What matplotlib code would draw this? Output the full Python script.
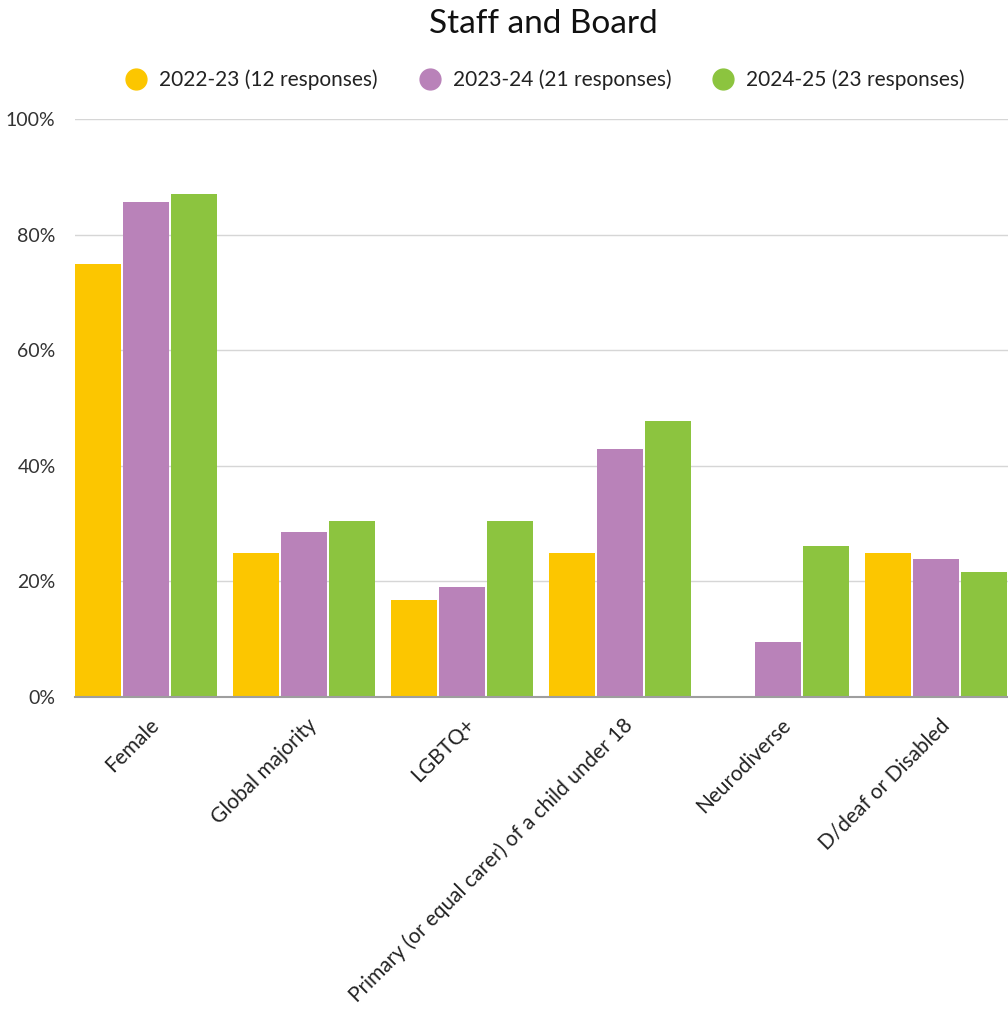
import matplotlib.pyplot as plt
import matplotlib.transforms as mtrans
from matplotlib.lines import Line2D
import numpy as np

plt.rcParams['font.family'] = ['Lato', 'DejaVu Sans']

# data (share of respondents)
categories = ["Female", "Global majority", "LGBTQ+",
              "Primary (or equal carer) of a child under 18",
              "Neurodiverse", "D/deaf or Disabled"]
series_names = ["2022-23 (12 responses)", "2023-24 (21 responses)", "2024-25 (23 responses)"]
y2223 = [0.750, 0.250, 0.167, 0.250, 0.0, 0.250]
y2324 = [0.857, 0.286, 0.190, 0.429, 0.095, 0.238]
y2425 = [0.870, 0.304, 0.304, 0.478, 0.261, 0.217]
colors = ["#FCC600", "#B982B9", "#8CC43F"]

fig = plt.figure(figsize=(10.08, 10.09), dpi=100)
ax = fig.add_axes([75/1008, 1-697/1009, 1-75/1008, (697-119)/1009])

x = np.arange(len(categories))
w = 0.29
step = 0.306
for i, (vals, c) in enumerate(zip([y2223, y2324, y2425], colors)):
    ax.bar(x + (i-1)*step, vals, width=w, color=c, zorder=3)

ax.set_xlim(-0.449, 5.456)
ax.set_ylim(0, 1)
ax.set_yticks([0, 0.2, 0.4, 0.6, 0.8, 1.0])
ax.set_yticklabels(["0%", "20%", "40%", "60%", "80%", "100%"])
ax.grid(axis='y', color='#d6d6d6', lw=1, zorder=0)
for s in ['top', 'right', 'left']:
    ax.spines[s].set_visible(False)
ax.spines['bottom'].set_color('#9e9e9e')
ax.spines['bottom'].set_linewidth(1.5)
ax.spines['bottom'].set_zorder(4)
ax.tick_params(axis='y', length=0, pad=14, labelsize=14, labelcolor='#333333')
ax.tick_params(axis='x', length=0, pad=18, labelsize=15, labelcolor='#222222')

ax.set_xticks(x)
ax.set_xticklabels(categories, rotation=45, ha='right', va='center', rotation_mode='anchor')
off = mtrans.ScaledTranslation(10/100, 0, fig.dpi_scale_trans)
for lab in ax.get_xticklabels():
    lab.set_transform(lab.get_transform() + off)

fig.text(543/1008, 1-24/1009, "Staff and Board", ha='center', va='center',
         fontsize=24, color='#111111')

handles = [Line2D([], [], marker='o', ls='', color=c, markersize=15) for c in colors]
fig.legend(handles, series_names, loc='center', bbox_to_anchor=(540/1008, 1-80/1009),
           ncol=3, frameon=False, fontsize=15, handletextpad=0.1, columnspacing=1.5,
           labelcolor='#222222')

fig.savefig("out.png", dpi=100)
